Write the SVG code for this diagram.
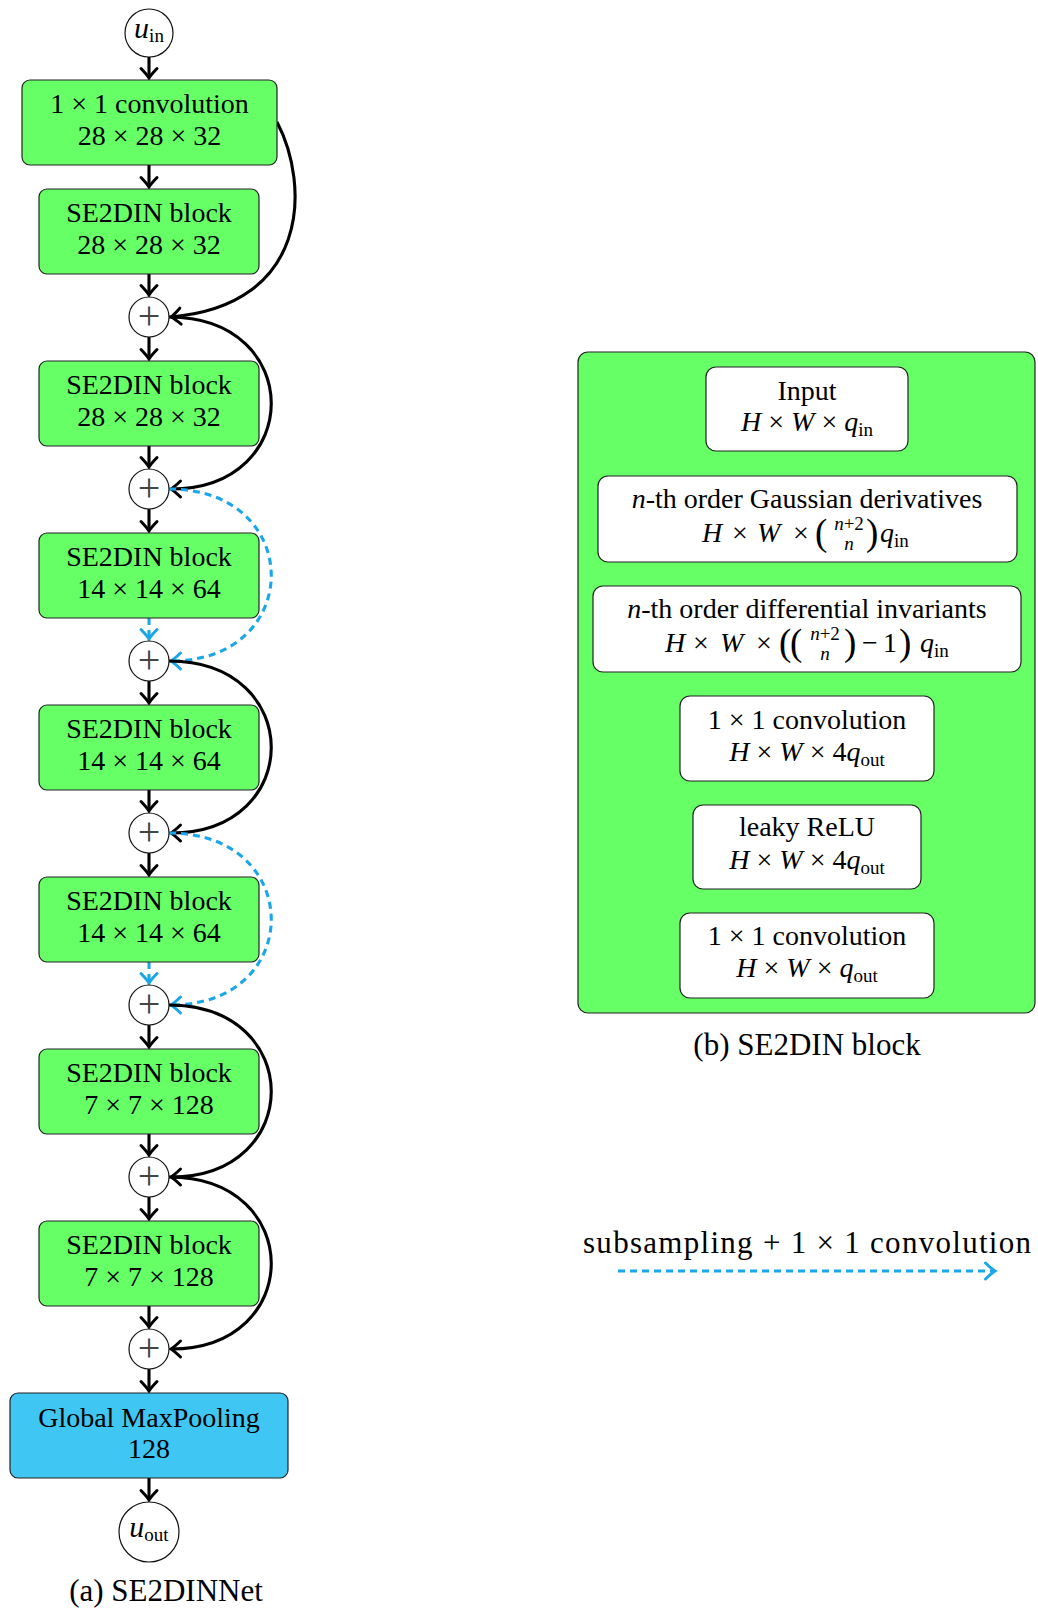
<svg xmlns="http://www.w3.org/2000/svg" width="1038" height="1614" viewBox="0 0 1038 1614">
<style>
text{font-family:"Liberation Serif","Times New Roman",serif;fill:#000}
.t{font-size:28px;text-anchor:middle}
.cap{font-size:31px;text-anchor:middle}
.i{font-style:italic}
.sub{font-size:19px}
.sm{font-size:19px;text-anchor:middle}
.par{font-size:37px}
.plus{font-size:40px;text-anchor:middle;fill:#444}
.g{fill:#66ff66;stroke:#222;stroke-width:1.2}
.b{fill:#3fc6f2;stroke:#222;stroke-width:1.2}
.w{fill:#fff;stroke:#222;stroke-width:1.2}
.c{fill:#fff;stroke:#111;stroke-width:1.2}
.a{fill:none;stroke:#000;stroke-width:3.1;marker-end:url(#ah)}
.d{fill:none;stroke:#1aa6e8;stroke-width:3.1;stroke-dasharray:7 5;marker-end:url(#ahb)}
</style>
<defs>
<marker id="ah" markerUnits="userSpaceOnUse" viewBox="-13 -11 16 22" refX="0" refY="0" markerWidth="16" markerHeight="22" orient="auto">
<path d="M-9.5,-8 Q-3.5,-2.2 0,0 Q-3.5,2.2 -9.5,8" fill="none" stroke="#000" stroke-width="3" stroke-linecap="round"/>
</marker>
<marker id="ahb" markerUnits="userSpaceOnUse" viewBox="-13 -11 16 22" refX="0" refY="0" markerWidth="16" markerHeight="22" orient="auto">
<path d="M-9.5,-8 Q-3.5,-2.2 0,0 Q-3.5,2.2 -9.5,8" fill="none" stroke="#1aa6e8" stroke-width="3" stroke-linecap="round"/>
</marker>
</defs>

<g id="connectors">
<path class="a" d="M149,57 V78"/>
<path class="a" d="M149,165 V187"/>
<path class="a" d="M149,274 V295"/>
<path class="a" d="M149,337 V359"/>
<path class="a" d="M149,446 V467"/>
<path class="a" d="M149,509 V531"/>
<path class="d" d="M149,618 V639"/>
<path class="a" d="M149,681 V703"/>
<path class="a" d="M149,790 V811"/>
<path class="a" d="M149,853 V875"/>
<path class="d" d="M149,962 V983"/>
<path class="a" d="M149,1025 V1047"/>
<path class="a" d="M149,1134 V1155"/>
<path class="a" d="M149,1197 V1219"/>
<path class="a" d="M149,1306 V1327"/>
<path class="a" d="M149,1369 V1391"/>
<path class="a" d="M149,1478 V1500"/>
<path class="a" d="M277,122 C310,185 310,305 171,317"/>
<path class="a" d="M169,317 C305,317 305,489 171,489"/>
<path class="d" d="M169,489 C305,489 305,661 171,661"/>
<path class="a" d="M169,661 C305,661 305,833 171,833"/>
<path class="d" d="M169,833 C305,833 305,1005 171,1005"/>
<path class="a" d="M169,1005 C305,1005 305,1177 171,1177"/>
<path class="a" d="M169,1177 C305,1177 305,1349 171,1349"/>
<path class="a" d="M807,451 V474"/>
<path class="a" d="M807,562 V584"/>
<path class="a" d="M807,672 V694"/>
<path class="a" d="M807,781 V803"/>
<path class="a" d="M807,889 V911"/>
<path class="d" d="M618,1271 H995"/>
</g>

<g id="u_in">
<circle class="c" cx="149" cy="33" r="24"/>
<text class="t" x="149" y="38" style="font-size:30px"><tspan class="i">u</tspan><tspan class="sub" dy="4">in</tspan></text>
</g>
<g id="conv0">
<rect class="g" x="22" y="80" width="255" height="85" rx="8"/>
<text class="t" x="149.5" y="113">1 × 1 convolution</text>
<text class="t" x="149.5" y="145">28 × 28 × 32</text>
</g>
<g id="block1">
<rect class="g" x="39" y="189" width="220" height="85" rx="8"/>
<text class="t" x="149" y="222">SE2DIN block</text>
<text class="t" x="149" y="254">28 × 28 × 32</text>
</g>
<g id="plus1"><circle class="c" cx="149" cy="317" r="20"/><text class="plus" x="149" y="328.5">+</text></g>
<g id="block2">
<rect class="g" x="39" y="361" width="220" height="85" rx="8"/>
<text class="t" x="149" y="394">SE2DIN block</text>
<text class="t" x="149" y="426">28 × 28 × 32</text>
</g>
<g id="plus2"><circle class="c" cx="149" cy="489" r="20"/><text class="plus" x="149" y="500.5">+</text></g>
<g id="block3">
<rect class="g" x="39" y="533" width="220" height="85" rx="8"/>
<text class="t" x="149" y="566">SE2DIN block</text>
<text class="t" x="149" y="598">14 × 14 × 64</text>
</g>
<g id="plus3"><circle class="c" cx="149" cy="661" r="20"/><text class="plus" x="149" y="672.5">+</text></g>
<g id="block4">
<rect class="g" x="39" y="705" width="220" height="85" rx="8"/>
<text class="t" x="149" y="738">SE2DIN block</text>
<text class="t" x="149" y="770">14 × 14 × 64</text>
</g>
<g id="plus4"><circle class="c" cx="149" cy="833" r="20"/><text class="plus" x="149" y="844.5">+</text></g>
<g id="block5">
<rect class="g" x="39" y="877" width="220" height="85" rx="8"/>
<text class="t" x="149" y="910">SE2DIN block</text>
<text class="t" x="149" y="942">14 × 14 × 64</text>
</g>
<g id="plus5"><circle class="c" cx="149" cy="1005" r="20"/><text class="plus" x="149" y="1016.5">+</text></g>
<g id="block6">
<rect class="g" x="39" y="1049" width="220" height="85" rx="8"/>
<text class="t" x="149" y="1082">SE2DIN block</text>
<text class="t" x="149" y="1114">7 × 7 × 128</text>
</g>
<g id="plus6"><circle class="c" cx="149" cy="1177" r="20"/><text class="plus" x="149" y="1188.5">+</text></g>
<g id="block7">
<rect class="g" x="39" y="1221" width="220" height="85" rx="8"/>
<text class="t" x="149" y="1254">SE2DIN block</text>
<text class="t" x="149" y="1286">7 × 7 × 128</text>
</g>
<g id="plus7"><circle class="c" cx="149" cy="1349" r="20"/><text class="plus" x="149" y="1360.5">+</text></g>
<g id="maxpool">
<rect class="b" x="10" y="1393" width="278" height="85" rx="8"/>
<text class="t" x="149" y="1427">Global MaxPooling</text>
<text class="t" x="149" y="1458">128</text>
</g>
<g id="u_out">
<circle class="c" cx="149" cy="1532" r="30"/>
<text class="t" x="149" y="1537" style="font-size:30px"><tspan class="i">u</tspan><tspan class="sub" dy="4">out</tspan></text>
</g>
<text id="caption_a" class="cap" x="166" y="1601">(a) SE2DINNet</text>

<g id="se2din_panel">
<rect class="g" x="578" y="352" width="457" height="661" rx="10"/>
</g>
<g id="input">
<rect class="w" x="706" y="367" width="202" height="84" rx="10"/>
<text class="t" x="807" y="400">Input</text>
<text class="t" x="807" y="431"><tspan class="i">H</tspan> × <tspan class="i">W</tspan> × <tspan class="i">q</tspan><tspan class="sub" dy="5">in</tspan></text>
</g>
<g id="gauss">
<rect class="w" x="598" y="476" width="419" height="86" rx="10"/>
<text class="t" x="807" y="508"><tspan class="i">n</tspan>-th order Gaussian derivatives</text>
<text style="font-size:28px" class="i" x="702" y="542">H</text>
<text class="t" x="740" y="542">×</text>
<text style="font-size:28px" class="i" x="757" y="542">W</text>
<text class="t" x="801" y="542">×</text>
<text class="par" x="815" y="545">(</text>
<text class="sm" x="849" y="530"><tspan class="i">n</tspan>+2</text>
<text class="sm i" x="849" y="550">n</text>
<text class="par" x="866" y="545">)</text>
<text style="font-size:28px" x="880" y="542"><tspan class="i">q</tspan><tspan class="sub" dy="5">in</tspan></text>
</g>
<g id="invariants">
<rect class="w" x="593" y="586" width="428" height="86" rx="10"/>
<text class="t" x="807" y="618"><tspan class="i">n</tspan>-th order differential invariants</text>
<text style="font-size:28px" class="i" x="665" y="652">H</text>
<text class="t" x="701" y="652">×</text>
<text style="font-size:28px" class="i" x="720" y="652">W</text>
<text class="t" x="764" y="652">×</text>
<text class="par" x="779" y="655">(</text>
<text class="par" x="790" y="655">(</text>
<text class="sm" x="825" y="640"><tspan class="i">n</tspan>+2</text>
<text class="sm i" x="825" y="660">n</text>
<text class="par" x="844" y="655">)</text>
<text class="t" x="870" y="652">−</text>
<text class="t" x="890" y="652">1</text>
<text class="par" x="899" y="655">)</text>
<text style="font-size:28px" x="920" y="652"><tspan class="i">q</tspan><tspan class="sub" dy="5">in</tspan></text>
</g>
<g id="conv1">
<rect class="w" x="680" y="696" width="254" height="85" rx="10"/>
<text class="t" x="807" y="729">1 × 1 convolution</text>
<text class="t" x="807" y="761"><tspan class="i">H</tspan> × <tspan class="i">W</tspan> × 4<tspan class="i">q</tspan><tspan class="sub" dy="5">out</tspan></text>
</g>
<g id="relu">
<rect class="w" x="693" y="805" width="228" height="84" rx="10"/>
<text class="t" x="807" y="836">leaky ReLU</text>
<text class="t" x="807" y="869"><tspan class="i">H</tspan> × <tspan class="i">W</tspan> × 4<tspan class="i">q</tspan><tspan class="sub" dy="5">out</tspan></text>
</g>
<g id="conv2">
<rect class="w" x="680" y="913" width="254" height="85" rx="10"/>
<text class="t" x="807" y="945">1 × 1 convolution</text>
<text class="t" x="807" y="977"><tspan class="i">H</tspan> × <tspan class="i">W</tspan> × <tspan class="i">q</tspan><tspan class="sub" dy="5">out</tspan></text>
</g>
<text id="caption_b" class="cap" x="807" y="1055">(b) SE2DIN block</text>
<text id="legend" class="cap" x="807" y="1253" style="font-size:31px" textLength="448" lengthAdjust="spacing">subsampling + 1 × 1 convolution</text>
</svg>
